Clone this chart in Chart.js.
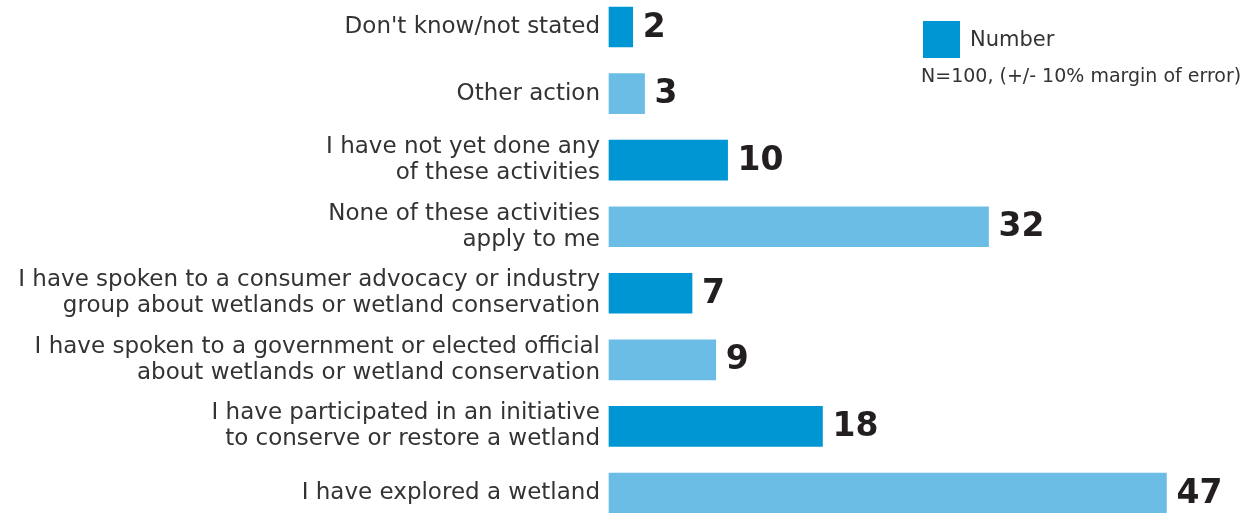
<!DOCTYPE html>
<html>
<head>
<meta charset="utf-8">
<script src="https://cdn.jsdelivr.net/npm/chart.js@4"></script>
<style>
  html, body { margin: 0; padding: 0; background: #ffffff; }
  #wrap { width: 1257px; height: 513px; }
</style>
</head>
<body>
<div id="wrap"><canvas id="actionChart"></canvas></div>
<script>
// categories (multi-line labels) and values, top to bottom
const categories = [
    ["Don't know/not stated"],
    ["Other action"],
    ["I have not yet done any", "of these activities"],
    ["None of these activities", "apply to me"],
    ["I have spoken to a consumer advocacy or industry", "group about wetlands or wetland conservation"],
    ["I have spoken to a government or elected official", "about wetlands or wetland conservation"],
    ["I have participated in an initiative", "to conserve or restore a wetland"],
    ["I have explored a wetland"]
];
const numbers = [2, 3, 10, 32, 7, 9, 18, 47];
const seriesName = "Number";
const noteText = "N=100, (+/- 10% margin of error)";

const DARK = "#0096d4";
const LIGHT = "#6cbde6";

// value labels after each bar
const valueLabels = {
    id: 'valueLabels',
    afterDatasetsDraw(chart) {
        const { ctx } = chart;
        const meta = chart.getDatasetMeta(0);
        ctx.save();
        ctx.font = "bold 33px 'DejaVu Sans'";
        ctx.fillStyle = "#231f20";
        ctx.textAlign = "left";
        ctx.textBaseline = "middle";
        meta.data.forEach((bar, i) => {
            ctx.fillText(String(numbers[i]), bar.x + 10, bar.y + 1);
        });
        ctx.restore();
    }
};

// legend box + sample note, top right
const legendNote = {
    id: 'legendNote',
    afterDraw(chart) {
        const { ctx } = chart;
        ctx.save();
        ctx.fillStyle = DARK;
        ctx.fillRect(923, 21, 37, 37);
        ctx.fillStyle = "#333333";
        ctx.textBaseline = "middle";
        ctx.textAlign = "left";
        ctx.font = "21px 'DejaVu Sans'";
        ctx.fillText(seriesName, 970, 41);
        ctx.font = "19px 'DejaVu Sans'";
        ctx.fillText(noteText, 921, 77);
        ctx.restore();
    }
};

const ctx = document.getElementById('actionChart').getContext('2d');
new Chart(ctx, {
    type: 'bar',
    data: {
        labels: categories,
        datasets: [{
            label: seriesName,
            data: numbers,
            backgroundColor: numbers.map((_, i) => i % 2 === 0 ? DARK : LIGHT),
            barThickness: 40,
            clip: false
        }]
    },
    options: {
        indexAxis: 'y',
        responsive: true,
        maintainAspectRatio: false,
        animation: false,
        layout: { padding: { top: 27, bottom: 20, right: 55, left: 0 } },
        scales: {
            x: {
                display: false,
                min: 0,
                max: 50
            },
            y: {
                offset: false,
                grid: { display: false },
                border: { display: false },
                ticks: {
                    color: "#333333",
                    padding: 1,
                    font: { family: "'DejaVu Sans'", size: 23, lineHeight: 1.13 }
                },
                afterFit(scale) { scale.width = 609; }
            }
        },
        plugins: {
            legend: { display: false },
            tooltip: { enabled: false }
        }
    },
    plugins: [valueLabels, legendNote]
});
</script>
</body>
</html>
